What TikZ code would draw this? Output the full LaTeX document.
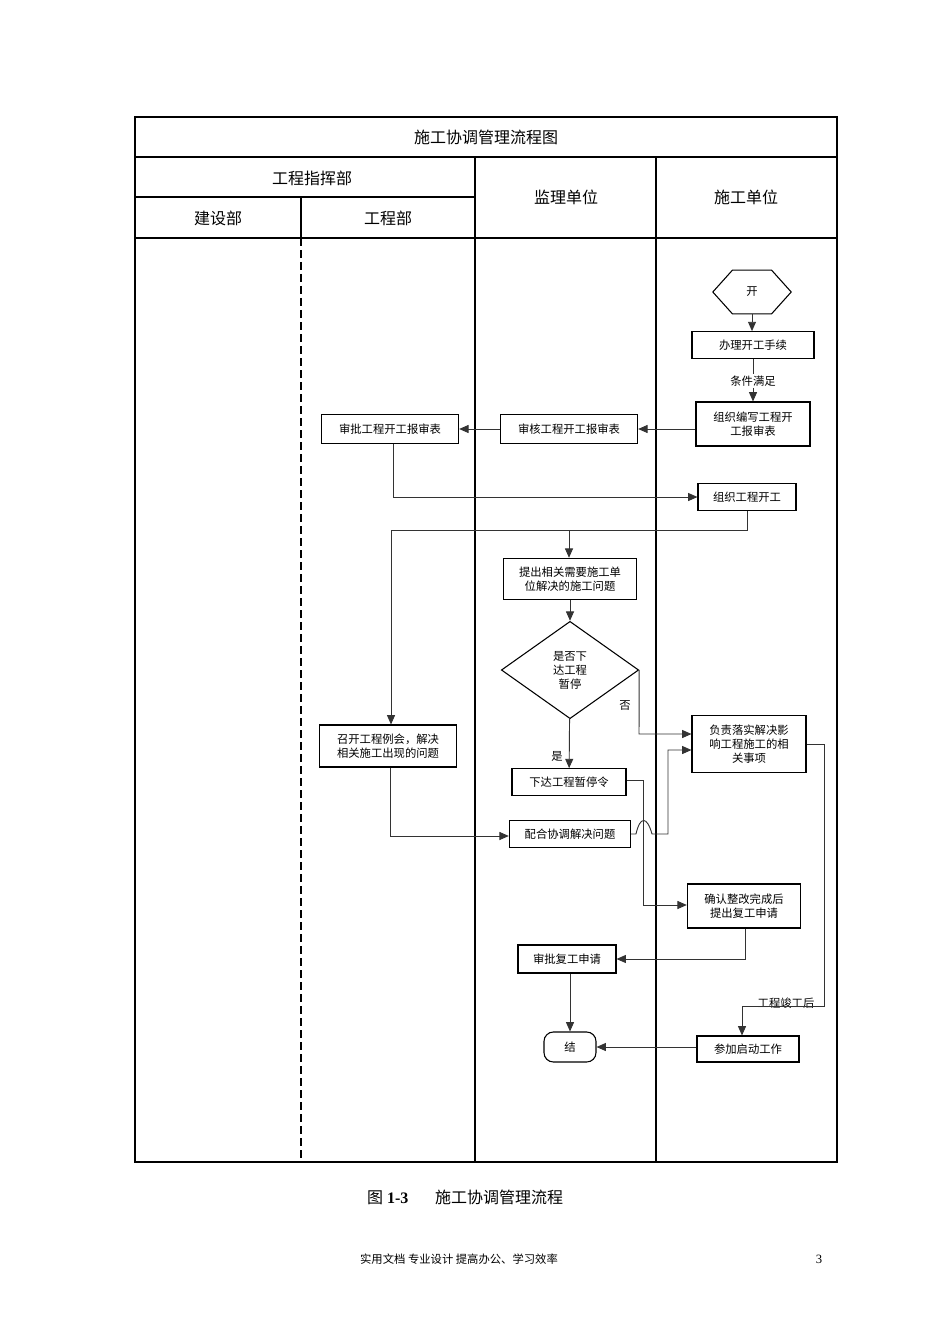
\documentclass[tikz,border=0pt]{standalone}
\usepackage{fontspec}
\setmainfont{Liberation Serif}
\newfontfamily\cjk{Noto Sans CJK SC}
\usetikzlibrary{shapes.geometric,arrows.meta}
\begin{document}
\begin{tikzpicture}[x=0.75pt,y=-0.75pt,
  box/.style={draw,line width=0.8pt,font=\cjk\fontsize{8.5}{10.5}\selectfont,align=center,inner sep=1pt},
  lane/.style={line width=1.3pt},
  conn/.style={draw=black!80,line width=0.7pt},
  arr/.style={conn,-{Triangle[length=7pt,width=6pt]}},
  hdr/.style={font=\cjk\fontsize{12}{14}\selectfont},
  lbl/.style={font=\cjk\fontsize{8.5}{10}\selectfont,inner sep=1pt}]
\useasboundingbox (0,0) rectangle (950,1344);
% table
\draw[lane] (135,117) rectangle (837,1162);
\draw[lane] (135,157) -- (837,157);
\draw[lane] (135,197) -- (475,197);
\draw[lane] (135,238) -- (837,238);
\draw[lane] (475,157) -- (475,1162);
\draw[lane] (656,157) -- (656,1162);
\draw[lane] (301,197) -- (301,238);
\draw[lane,dash pattern=on 6pt off 3pt] (301,238) -- (301,1162);
\node[hdr] (t) at (486,137) {施工协调管理流程图};
\node[hdr] (h1) at (312,178) {工程指挥部};
\node[hdr] (h2) at (218,218) {建设部};
\node[hdr] (h3) at (388,218) {工程部};
\node[hdr] (h4) at (566,197) {监理单位};
\node[hdr] (h5) at (746,197) {施工单位};
% nodes
\node[box,regular polygon,regular polygon sides=6,minimum width=42pt,inner sep=0pt,xscale=1.4,yscale=0.9] (st) at (752,292) {};
\node[lbl] at (752,292) {开};
\node[box,minimum width=91.5pt,minimum height=20pt] (a1) at (753,345) {办理开工手续};
\node[box,minimum width=85.5pt,minimum height=33pt] (a2) at (753,424) {组织编写工程开\\工报审表};
\node[box,minimum width=103pt,minimum height=22pt] (b1) at (569,429) {审核工程开工报审表};
\node[box,minimum width=103pt,minimum height=22pt] (c1) at (390,429) {审批工程开工报审表};
\node[box,minimum width=73.5pt,minimum height=20pt] (a3) at (747,497) {组织工程开工};
\node[box,minimum width=100pt,minimum height=31pt] (b2) at (570,579) {提出相关需要施工单\\位解决的施工问题};
\node[box,diamond,aspect=1.4,minimum width=103pt,minimum height=73pt,inner sep=0pt] (d) at (570,670) {是否下\\达工程\\暂停};
\node[box,minimum width=103pt,minimum height=31.5pt] (c2) at (388,746) {召开工程例会，解决\\相关施工出现的问题};
\node[box,minimum width=85.5pt,minimum height=20pt] (b3) at (569,782) {下达工程暂停令};
\node[box,minimum width=91pt,minimum height=20pt] (b4) at (570,834) {配合协调解决问题};
\node[box,minimum width=85.5pt,minimum height=43pt] (a4) at (749,744) {负责落实解决影\\响工程施工的相\\关事项};
\node[box,minimum width=85pt,minimum height=33pt] (a5) at (744,906) {确认整改完成后\\提出复工申请};
\node[box,minimum width=73.5pt,minimum height=21pt] (b5) at (567,959) {审批复工申请};
\node[box,rounded corners=7pt,minimum width=39pt,minimum height=22.5pt] (e) at (570,1047) {结};
\node[box,minimum width=76.5pt,minimum height=19.5pt] (a6) at (748,1049) {参加启动工作};
% labels
\node[lbl,fill=white] (l1) at (753,381) {条件满足};
\node[lbl] (l2) at (557,756) {是};
\node[lbl] (l3) at (625,706) {否};
\node[lbl] (l4) at (786,1003) {工程竣工后};
% connectors
\draw[arr] (st) -- (a1.north -| st);
\draw[arr] (a1) -- (l1) -- (a2);
\draw[arr] (a2.west |- b1) -- (b1);
\draw[arr] (b1) -- (c1);
\coordinate (p1) at (393,497);
\draw[arr] (c1.south -| p1) -- (p1) -- (a3);
\coordinate (p2) at (747,530);
\coordinate (p3) at (391,530);
\coordinate (p4) at (569,530);
\draw[arr] (a3) -- (p2) -- (p3) -- (c2.north -| p3);
\draw[arr] (p4) -- (b2.north -| p4);
\draw[arr] (b2) -- (d);
\draw[arr] (d) -- (b3);
\coordinate (p5) at (639,734);
\draw[arr] (d.east) -- (p5) -- (a4.west |- p5);
\coordinate (p6) at (390,836);
\draw[arr] (c2.south -| p6) -- (p6) -- (b4.west |- p6);
\coordinate (p7) at (668,834);
\coordinate (p8) at (668,750);
\draw[arr] (b4.east) -- (636,834) .. controls (640,816) and (647,816) .. (652,834) -- (p7) -- (p8) -- (a4.west |- p8);
\coordinate (p9) at (643,780);
\coordinate (p10) at (643,905);
\draw[arr] (b3.east |- p9) -- (p9) -- (p10) -- (a5.west |- p10);
\coordinate (p11) at (824,744);
\coordinate (p12) at (824,1006);
\coordinate (p13) at (742,1006);
\draw[arr] (a4.east |- p11) -- (p11) -- (p12) -- (p13) -- (a6.north -| p13);
\coordinate (p14) at (745,959);
\draw[arr] (a5.south -| p14) -- (p14) -- (b5.east);
\draw[arr] (b5.south -| e) -- (e);
\draw[arr] (a6.west |- e) -- (e);
% caption and footer
\node[font=\fontsize{12}{14}\selectfont] (cap) at (465,1197) {{\cjk 图} \textbf{1-3}\hspace{20pt}{\cjk 施工协调管理流程}};
\node[font=\cjk\fontsize{8.5}{10}\selectfont] (ft) at (459,1259) {实用文档 专业设计 提高办公、学习效率};
\node[font=\fontsize{9.5}{11}\selectfont] (pg) at (819,1259) {3};
\end{tikzpicture}
\end{document}
